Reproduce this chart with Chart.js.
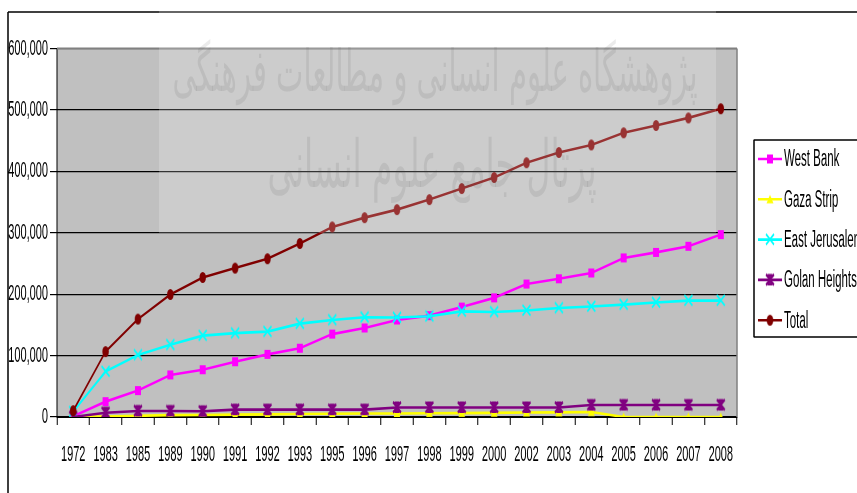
<!DOCTYPE html>
<html>
<head>
<meta charset="utf-8">
<script src="https://cdn.jsdelivr.net/npm/chart.js@4/dist/chart.umd.min.js"></script>
<style>
  html, body { margin: 0; padding: 0; background: #fff; overflow: hidden; }
  #c { display: block; }
</style>
</head>
<body>
<canvas id="c" width="1714" height="493" style="width:857px;height:493px"></canvas>
<script>
// Settlement population by year
const years = ['1972','1983','1985','1989','1990','1991','1992','1993','1995','1996',
               '1997','1998','1999','2000','2002','2003','2004','2005','2006','2007','2008'];
const westBank      = [1200, 25000, 43000, 68500, 77000, 90000, 102000, 112000, 135000, 145000,
                       158000, 165000, 179000, 194000, 216500, 225000, 234500, 259000, 268000, 278000, 297000];
const gazaStrip     = [700, 900, 1900, 3000, 3300, 3800, 4300, 4800, 5300, 5600,
                       5700, 6100, 6300, 6700, 7300, 7600, 8200, 0, 0, 0, 0];
const eastJerusalem = [8600, 74000, 101000, 117500, 132500, 136500, 139000, 152000, 158000, 162500,
                       162000, 164000, 172000, 171000, 173500, 177500, 180000, 183000, 186500, 189500, 189500];
const golanHeights  = [100, 7000, 9800, 9800, 9300, 12000, 12000, 12000, 12000, 12000,
                       15500, 15500, 15500, 15500, 15500, 15500, 19500, 19500, 19500, 19500, 19500];
const total         = [10300, 106500, 159400, 199500, 227200, 242500, 257700, 282500, 309500, 324600,
                       337700, 354000, 372000, 390000, 414000, 430700, 443000, 462800, 474700, 487000, 502000];
const seriesNames   = ['West Bank', 'Gaza Strip', 'East Jerusalem', 'Golan Heights', 'Total'];
const yTickValues   = [0, 100000, 200000, 300000, 400000, 500000, 600000];

// The drawing is laid out on a wider canvas and shown at half width (condensed look).
const SX = 0.5;
const canvas = document.getElementById('c');
const W = canvas.width;
const X = v => v / SX;            // page x -> canvas x

const FONT = "'Liberation Sans', Arial, sans-serif";
Chart.defaults.font.family = FONT;
Chart.defaults.color = '#000';

// Marker sprites, sized in page pixels and pre-stretched for the condensed canvas.
function sprite(wPage, hPage, paint) {
  const pad = 2;
  const w = X(wPage), h = hPage;
  const c = document.createElement('canvas');
  c.width = Math.ceil(w + pad * 2);
  c.height = Math.ceil(h + pad * 2);
  const g = c.getContext('2d');
  g.translate(pad, pad);
  paint(g, w, h);
  return c;
}
const markers = {
  square: color => sprite(6, 9, (g, w, h) => { g.fillStyle = color; g.fillRect(0, 0, w, h); }),
  triangle: color => sprite(7, 8.5, (g, w, h) => {
    g.fillStyle = color; g.beginPath(); g.moveTo(w / 2, 0); g.lineTo(w, h); g.lineTo(0, h); g.closePath(); g.fill();
  }),
  cross: color => sprite(8, 10.5, (g, w, h) => {
    g.strokeStyle = color; g.lineWidth = 2.6; g.lineCap = 'butt';
    g.beginPath(); g.moveTo(0, 0); g.lineTo(w, h); g.moveTo(w, 0); g.lineTo(0, h); g.stroke();
  }),
  star: color => sprite(8, 10.5, (g, w, h) => {
    g.strokeStyle = color; g.lineWidth = 2.8;
    g.beginPath();
    g.moveTo(0, 0); g.lineTo(w, h); g.moveTo(w, 0); g.lineTo(0, h);
    g.moveTo(w / 2, 0); g.lineTo(w / 2, h);
    g.moveTo(w * 0.2, 0.8); g.lineTo(w * 0.8, 0.8);
    g.moveTo(w * 0.2, h - 0.8); g.lineTo(w * 0.8, h - 0.8);
    g.stroke();
  }),
  dot: color => sprite(6.5, 11, (g, w, h) => {
    g.fillStyle = color; g.beginPath(); g.ellipse(w / 2, h / 2, w / 2, h / 2, 0, 0, Math.PI * 2); g.fill();
  })
};

const styles = [
  { color: '#FF00FF', marker: 'square' },
  { color: '#FFFF00', marker: 'triangle' },
  { color: '#00FFFF', marker: 'cross' },
  { color: '#800080', marker: 'star' },
  { color: '#800000', marker: 'dot' }
];
const values = [westBank, gazaStrip, eastJerusalem, golanHeights, total];

const datasets = values.map((vals, i) => ({
  label: seriesNames[i],
  data: vals,
  borderColor: styles[i].color,
  backgroundColor: styles[i].color,
  borderWidth: 2.6,
  pointStyle: markers[styles[i].marker](styles[i].color),
  pointRadius: 6,
  tension: 0,
  order: 5 - i
}));

const decor = {
  id: 'decor',
  beforeDraw(chart) {
    const { ctx, chartArea: a } = chart;
    ctx.save();
    ctx.fillStyle = '#fff';
    ctx.fillRect(0, 0, chart.width, chart.height);
    ctx.fillStyle = '#C0C0C0';
    ctx.fillRect(a.left, a.top, a.right - a.left, a.bottom - a.top);
    ctx.restore();
  },
  beforeDatasetsDraw(chart) {
    const { ctx, chartArea: a } = chart;
    ctx.save();
    ctx.strokeStyle = '#808080';
    ctx.lineWidth = 2;
    ctx.beginPath();
    ctx.moveTo(a.left, a.top);
    ctx.lineTo(a.right, a.top);
    ctx.stroke();
    ctx.lineWidth = 3;
    ctx.beginPath();
    ctx.moveTo(a.right, a.top);
    ctx.lineTo(a.right, a.bottom);
    ctx.stroke();
    ctx.restore();
  },
  afterDraw(chart) {
    const { ctx } = chart;
    ctx.save();

    // outer frame
    ctx.strokeStyle = '#000';
    ctx.lineWidth = 1.5;
    ctx.beginPath();
    ctx.moveTo(X(8), 12);
    ctx.lineTo(W + 5, 12);
    ctx.stroke();
    ctx.lineWidth = 3;
    ctx.beginPath();
    ctx.moveTo(X(8), 12);
    ctx.lineTo(X(8), chart.height + 5);
    ctx.stroke();

    // legend
    const bx = X(754), by = 140, bh = 197;
    ctx.fillStyle = '#fff';
    ctx.fillRect(bx, by, W - bx + 5, bh);
    ctx.strokeStyle = '#000';
    ctx.lineWidth = 1.5;
    ctx.beginPath();
    ctx.moveTo(W + 5, by); ctx.lineTo(bx, by); ctx.lineTo(bx, by + bh); ctx.lineTo(W + 5, by + bh);
    ctx.stroke();
    ctx.lineWidth = 3;
    ctx.beginPath(); ctx.moveTo(bx, by); ctx.lineTo(bx, by + bh); ctx.stroke();

    chart.data.datasets.forEach((ds, i) => {
      const y = 159 + i * 40.3;
      const x0 = X(758), x1 = X(782);
      ctx.strokeStyle = ds.borderColor;
      ctx.lineWidth = 2.6;
      ctx.beginPath(); ctx.moveTo(x0, y); ctx.lineTo(x1, y); ctx.stroke();
      const img = ds.pointStyle;
      ctx.drawImage(img, (x0 + x1) / 2 - img.width / 2, y - img.height / 2);
      ctx.fillStyle = '#000';
      ctx.font = '23px ' + FONT;
      ctx.textAlign = 'left';
      ctx.textBaseline = 'middle';
      ctx.fillText(ds.label, X(784), y + 1);
    });

    // light watermark band laid over the upper plot
    ctx.fillStyle = 'rgba(255,255,255,0.2)';
    ctx.fillRect(X(159), 0, X(716) - X(159), 233);
    ctx.fillStyle = 'rgba(70,70,70,0.11)';
    ctx.textAlign = 'center';
    ctx.textBaseline = 'middle';
    ctx.direction = 'rtl';
    ctx.font = '200 58px "DejaVu Sans"';
    ctx.fillText('پژوهشگاه علوم انسانی و مطالعات فرهنگی', X(435), 76, X(540));
    ctx.font = '200 66px "DejaVu Sans"';
    ctx.fillText('پرتال جامع علوم انسانی', X(432), 170, X(335));
    ctx.restore();
  }
};

new Chart(canvas, {
  type: 'line',
  data: { labels: years, datasets },
  options: {
    responsive: false,
    animation: false,
    devicePixelRatio: 1,
    events: [],
    layout: { padding: { left: 0, top: 48.5, right: W - X(737), bottom: 0 } },
    plugins: { legend: { display: false }, tooltip: { enabled: false } },
    scales: {
      x: {
        type: 'category',
        offset: true,
        grid: { offset: true, drawOnChartArea: false, drawTicks: true, tickLength: 8, color: '#000', tickWidth: 2 },
        border: { color: '#000', width: 2 },
        ticks: { autoSkip: false, maxRotation: 0, padding: 17, font: { size: 22 }, color: '#000' },
        afterFit(scale) { scale.height = 493 - 417; }
      },
      y: {
        min: 0,
        max: 600000,
        afterBuildTicks(scale) { scale.ticks = yTickValues.map(v => ({ value: v })); },
        grid: {
          color: ctx => (ctx.tick && ctx.tick.value === 600000) ? '#808080' : '#000',
          lineWidth: 1.2,
          tickLength: 14,
          tickColor: '#000'
        },
        border: { color: '#000', width: 2 },
        ticks: {
          padding: 4,
          font: { size: 22 },
          color: '#000',
          callback: v => Number(v).toLocaleString('en-US')
        },
        afterFit(scale) { scale.width = X(57); }
      }
    }
  },
  plugins: [decor]
});
</script>
</body>
</html>
